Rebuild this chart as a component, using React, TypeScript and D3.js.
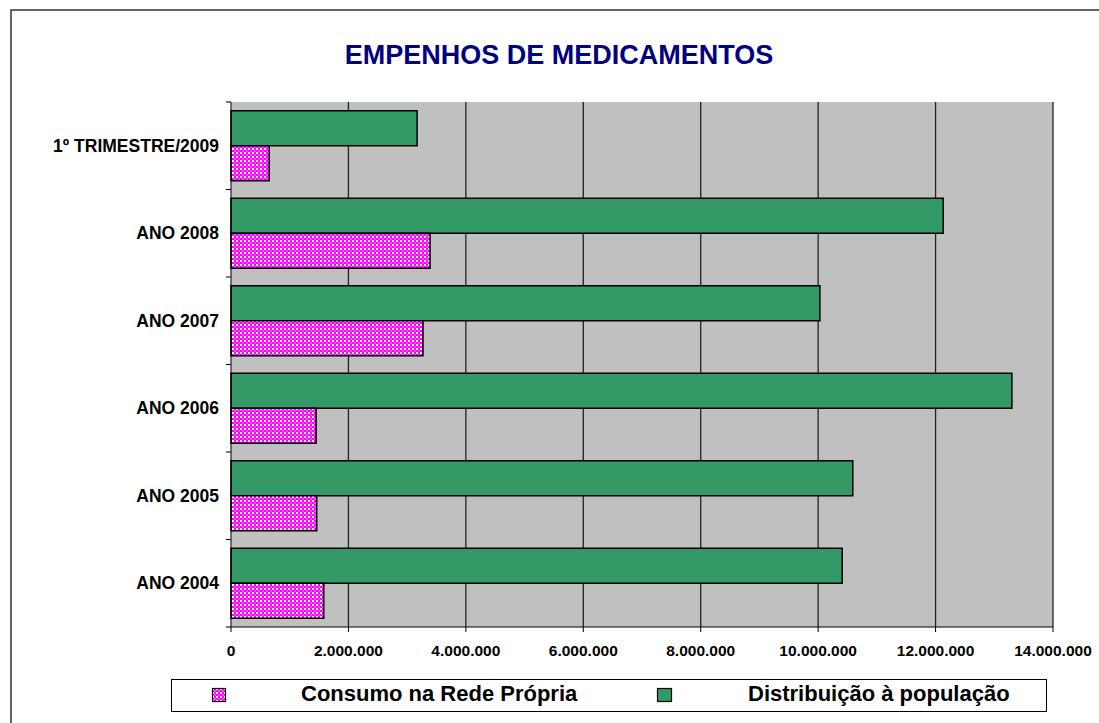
import React from "react";
import * as d3 from "d3";

const categories = ["1º TRIMESTRE/2009", "ANO 2008", "ANO 2007", "ANO 2006", "ANO 2005", "ANO 2004"];
const distribuicao = [3170000, 12130000, 10030000, 13300000, 10590000, 10410000];
const consumo = [650000, 3390000, 3270000, 1450000, 1460000, 1580000];
const xTicks = [0, 2000000, 4000000, 6000000, 8000000, 10000000, 12000000, 14000000];
const seriesNames = ["Consumo na Rede Própria", "Distribuição à população"];
const title = "EMPENHOS DE MEDICAMENTOS";

const fmt = (v: number) => (v === 0 ? "0" : d3.format(",")(v).replace(/,/g, "."));

export default function App() {
  const W = 1099, H = 723;
  const left = 231, right = 1053, top = 102, bottom = 627;
  const x = d3.scaleLinear().domain([0, 14000000]).range([left, right]);
  const y = d3.scaleBand().domain(categories).range([top, bottom]).paddingInner(0).paddingOuter(0);
  const bw = y.bandwidth();
  const gap = bw * 0.1;
  const barH = (bw - 2 * gap) / 2;
  const font = "Liberation Sans, Arial, sans-serif";
  return (
    <svg width={W} height={H} style={{ position: "absolute", left: 0, top: 0 }}>
      <defs>
        <pattern id="chk" width="4" height="4" patternUnits="userSpaceOnUse">
          <rect width="4" height="4" fill="#ff00ff" />
          <rect x="0" y="0" width="2" height="2" fill="#ffffff" />
          <rect x="2" y="2" width="2" height="2" fill="#ff44ff" />
        </pattern>
      </defs>
      <rect x={0} y={0} width={W} height={H} fill="#fff" />
      <rect x={11} y={10} width={W + 20} height={H + 20} fill="none" stroke="#333" strokeWidth={1.5} />
      <text x={559} y={64} textAnchor="middle" fontFamily={font} fontWeight="bold" fontSize={27} fill="#000080">{title}</text>
      <rect x={left} y={top} width={right - left} height={bottom - top} fill="#c0c0c0" />
      {xTicks.slice(1).map((t) => (
        <line key={t} x1={x(t)} x2={x(t)} y1={top} y2={bottom} stroke="#222" strokeWidth={1.3} />
      ))}
      {categories.map((c, i) => {
        const y0 = (y(c) as number) + gap;
        return (
          <g key={c}>
            <rect x={x(0)} y={y0} width={x(distribuicao[i]) - x(0)} height={barH} fill="#339966" stroke="#000" strokeWidth={1.5} />
            <rect x={x(0)} y={y0 + barH} width={x(consumo[i]) - x(0)} height={barH} fill="url(#chk)" stroke="#000" strokeWidth={1.5} />
            <text x={219} y={(y(c) as number) + bw / 2 + 6} textAnchor="end" fontFamily={font} fontWeight="bold" fontSize={17.5}>{c}</text>
          </g>
        );
      })}
      <line x1={left} x2={left} y1={top} y2={bottom} stroke="#000" strokeWidth={1} />
      {[...categories.map((c) => y(c) as number), bottom].map((v, i) => (
        <line key={i} x1={left - 5} x2={left} y1={v} y2={v} stroke="#000" />
      ))}
      <line x1={left} x2={right} y1={bottom} y2={bottom} stroke="#000" strokeWidth={1} />
      {xTicks.map((t) => (
        <g key={t}>
          <line x1={x(t)} x2={x(t)} y1={bottom} y2={bottom + 5} stroke="#000" />
          <text x={x(t)} y={656} textAnchor="middle" fontFamily={font} fontWeight="bold" fontSize={15.5}>{fmt(t)}</text>
        </g>
      ))}
      <rect x={171.5} y={679.5} width={875} height={32} fill="#fff" stroke="#000" strokeWidth={1} />
      <rect x={212.5} y={688.5} width={13} height={13} fill="url(#chk)" stroke="#000" strokeWidth={1.2} />
      <text x={301} y={701} fontFamily={font} fontWeight="bold" fontSize={22}>{seriesNames[0]}</text>
      <rect x={657.5} y={688.5} width={14} height={13} fill="#339966" stroke="#000" strokeWidth={1.2} />
      <text x={748} y={701} fontFamily={font} fontWeight="bold" fontSize={22}>{seriesNames[1]}</text>
    </svg>
  );
}
